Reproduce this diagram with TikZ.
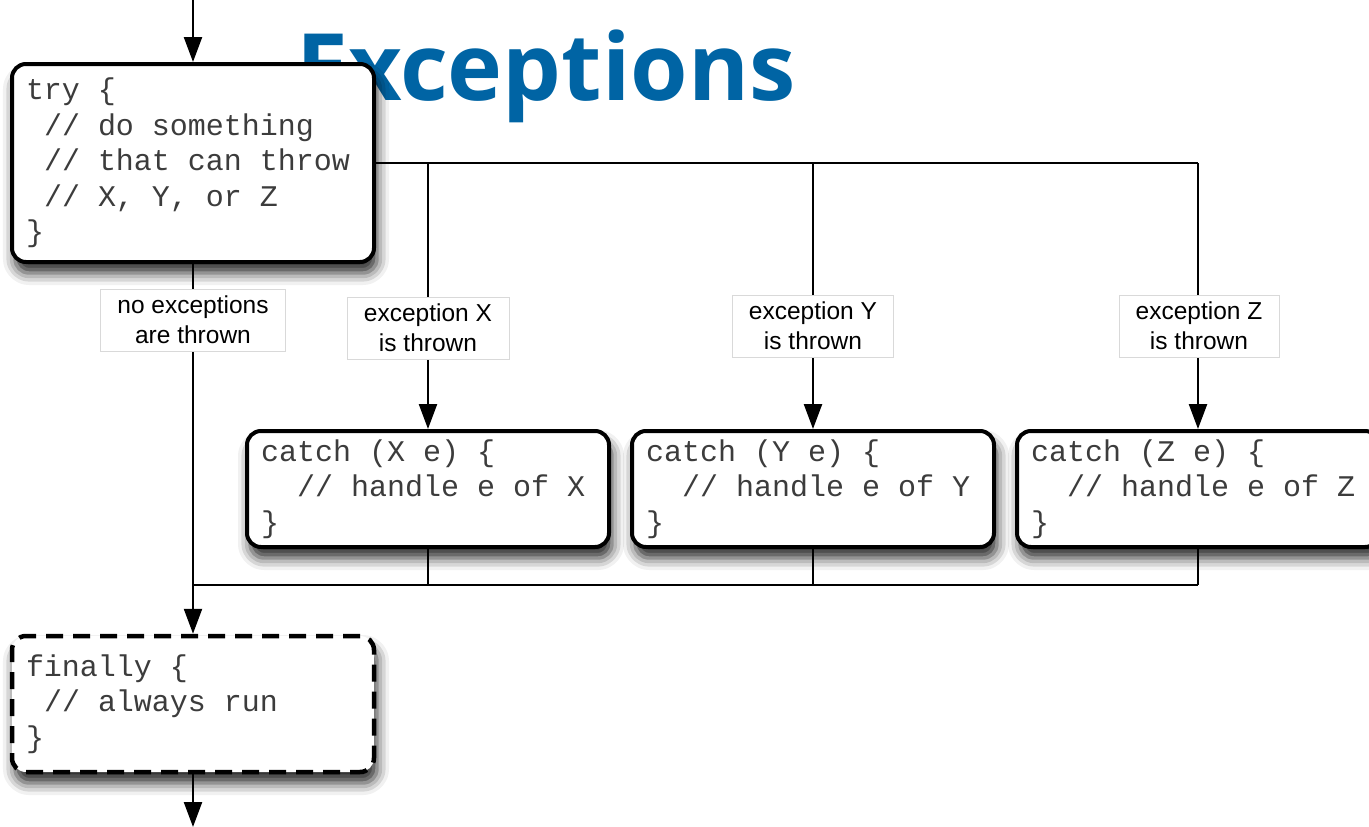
\documentclass[tikz,border=0pt]{standalone}
\usepackage{fontspec}
\setmonofont{Liberation Mono}
\newfontfamily\labelfont{Liberation Sans}
\newfontfamily\titlefont{Open Sans}
\usetikzlibrary{arrows.meta,shadows.blur}
\definecolor{titleblue}{RGB}{0,100,164}
\definecolor{codeink}{RGB}{60,60,60}
% monospaced code text: every space one character wide
\newcommand{\codefont}{\ttfamily\fontsize{30}{35.5}\selectfont
  \fontdimen2\font=0.6em\fontdimen3\font=0pt\fontdimen4\font=0pt\fontdimen7\font=0pt}
\newcommand{\ind}{\hspace*{0.6em}}
\tikzset{
  codebox/.style={draw=black, fill=white, line width=4pt, rounded corners=14pt,
    inner xsep=14pt, inner ysep=0pt, align=flush left, text=codeink, font=\codefont,
    blur shadow={shadow xshift=3pt, shadow yshift=-11pt, shadow blur radius=12pt, shadow opacity=85}},
  trybox/.style={codebox, text width=334pt, minimum height=198pt},
  catchbox/.style={codebox, text width=334pt, minimum height=116pt},
  finbox/.style={codebox, text width=334pt, minimum height=136pt, dash pattern=on 17pt off 10pt, line width=4.5pt},
  wire/.style={draw=black, line width=2pt},
  flow/.style={draw=black, line width=2.4pt, -{Triangle[length=25pt,width=18pt]}},
  lbl/.style={draw=black!15, line width=0.8pt, fill=white, align=center, inner sep=0pt,
    font=\labelfont\fontsize{24.5}{30}\selectfont},
}
\begin{document}
\begin{tikzpicture}[x=1pt, y=-1pt]
\useasboundingbox (0,0) rectangle (1369,827);

% heading
\node[anchor=base west, inner sep=0pt, text=titleblue, font=\titlefont\bfseries\fontsize{93}{93}\selectfont] (title) at (296,100) {Exceptions};

% code blocks
\node[trybox]   (try) at (193,163) {try \{\\\ind// do something\\\ind// that can throw\\\ind// X, Y, or Z\\\}};
\node[catchbox] (cx)  at (428,489) {catch (X e) \{\\\ind\ind// handle e of X\\\}};
\node[catchbox] (cy)  at (813,489) {catch (Y e) \{\\\ind\ind// handle e of Y\\\}};
\node[catchbox] (cz)  at (1198,489) {catch (Z e) \{\\\ind\ind// handle e of Z\\\}};
\node[finbox]   (fin) at (193,704) {finally \{\\\ind// always run\\\}};

% entry, exit and merge points
\coordinate (entry) at (193,0);
\coordinate (exit) at (193,827);
\coordinate (join) at (193,585);

% exception branches
\draw[wire] (try.east) -- (try.east -| cz.north);
\draw[flow] (try.east -| cx.north) -- (cx.north);
\draw[flow] (try.east -| cy.north) -- (cy.north);
\draw[flow] (try.east -| cz.north) -- (cz.north);

% merge into finally
\draw[wire] (cx.south) -- (cx.south |- join);
\draw[wire] (cy.south) -- (cy.south |- join);
\draw[wire] (cz.south) -- (cz.south |- join);
\draw[wire] (join) -- (join -| cz.south);

\draw[flow] (entry) -- (try.north);
\draw[flow] (try.south) -- (fin.north);
\draw[flow] (fin.south) -- (exit);

% path labels
\node[lbl, minimum width=185pt, minimum height=62pt] (lnone) at (193,320) {no exceptions\\are thrown};
\node[lbl, minimum width=162pt, minimum height=62pt] (lx) at (428,328) {exception X\\is thrown};
\node[lbl, minimum width=161pt, minimum height=62pt] (ly) at (813,326) {exception Y\\is thrown};
\node[lbl, minimum width=160pt, minimum height=62pt] (lz) at (1199,326) {exception Z\\is thrown};
\end{tikzpicture}
\end{document}
